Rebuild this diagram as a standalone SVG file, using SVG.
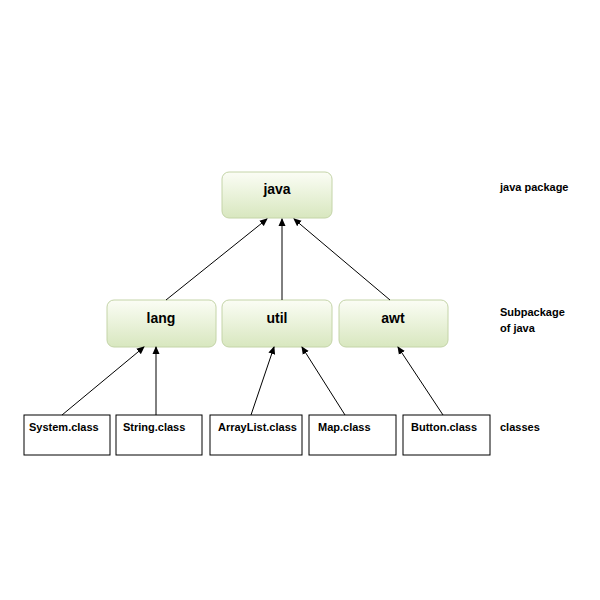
<svg xmlns="http://www.w3.org/2000/svg" width="600" height="600" viewBox="0 0 600 600">
<defs>
<linearGradient id="g" x1="0" y1="0" x2="0" y2="1"><stop offset="0" stop-color="#fbfdf5"/><stop offset="1" stop-color="#d8e7bf"/></linearGradient>
<marker id="a" markerWidth="8" markerHeight="8" refX="7" refY="4" orient="auto" markerUnits="userSpaceOnUse"><path d="M0,0.5 L8,4 L0,7.5 Z" fill="#000"/></marker>
</defs>
<style>
.p{fill:url(#g);stroke:#c4d4a8;stroke-width:1}
.c{fill:#fff;stroke:#000;stroke-width:1}
text{font-family:"Liberation Sans",Arial,sans-serif;font-weight:bold;fill:#000}
.t{font-size:14px;text-anchor:middle}
.s{font-size:11px}
.l{font-size:11px}
#conn line{stroke:#000;stroke-width:1;marker-end:url(#a)}
</style>
<rect width="600" height="600" fill="#fff"/>
<g id="java"><rect class="p" x="222" y="172" width="110" height="46" rx="7"/><text class="t" x="277" y="194">java</text></g>
<g id="lang"><rect class="p" x="107" y="300" width="109" height="47" rx="7"/><text class="t" x="161" y="323">lang</text></g>
<g id="util"><rect class="p" x="222" y="300" width="110" height="47" rx="7"/><text class="t" x="277" y="323">util</text></g>
<g id="awt"><rect class="p" x="339" y="300" width="109" height="47" rx="7"/><text class="t" x="393" y="323">awt</text></g>
<g id="system"><rect class="c" x="24" y="415" width="86" height="40"/><text class="s" x="29" y="431">System.class</text></g>
<g id="string"><rect class="c" x="116" y="415" width="86" height="40"/><text class="s" x="123" y="431">String.class</text></g>
<g id="arraylist"><rect class="c" x="210" y="415" width="92" height="40"/><text class="s" x="218" y="431">ArrayList.class</text></g>
<g id="map"><rect class="c" x="309" y="415" width="87" height="40"/><text class="s" x="318" y="431">Map.class</text></g>
<g id="button"><rect class="c" x="403" y="415" width="87" height="40"/><text class="s" x="411" y="431">Button.class</text></g>
<g id="labels">
<text class="l" x="500" y="191">java package</text>
<text class="l" x="500" y="316">Subpackage</text>
<text class="l" x="500" y="332">of  java</text>
<text class="l" x="500" y="431">classes</text>
</g>
<g id="conn">
<line x1="166" y1="300" x2="267" y2="219"/>
<line x1="282" y1="300" x2="282" y2="219"/>
<line x1="390" y1="300" x2="294" y2="219"/>
<line x1="62" y1="415" x2="144" y2="347"/>
<line x1="156" y1="415" x2="156" y2="347"/>
<line x1="251" y1="415" x2="274" y2="347"/>
<line x1="345" y1="415" x2="302" y2="347"/>
<line x1="443" y1="415" x2="398" y2="347"/>
</g>
</svg>
